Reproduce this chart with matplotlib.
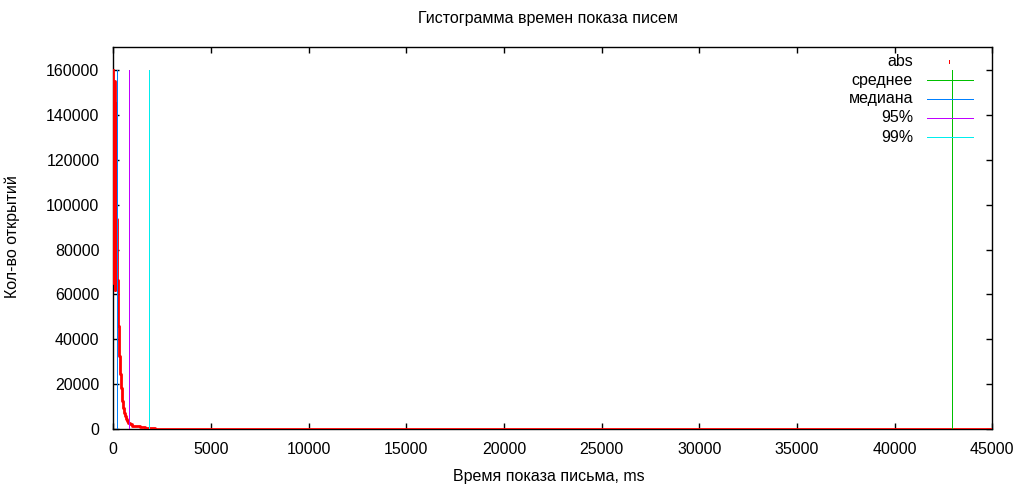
import matplotlib
matplotlib.use("Agg")
import matplotlib.pyplot as plt

plt.rcParams['font.family'] = ['Liberation Sans', 'DejaVu Sans']

# histogram: left edge of bin (ms) and count
bin_ms = [0, 10, 20, 30, 40, 50, 60, 70, 80, 90, 100, 110, 200, 230, 260, 292,
          343, 394, 445, 497, 548, 599, 650, 701, 753, 855, 957, 1111, 1367,
          1623, 2135, 3000, 5000, 10000, 20000, 30000, 45000]
counts = [160000, 65000, 150000, 75000, 140000, 100000, 155000, 62000, 130000,
          85000, 145000, 93600, 66400, 51700, 45900, 32500, 24500, 18300,
          12500, 9400, 7100, 5800, 4500, 3600, 2700, 2200, 1600, 1300, 900, 450,
          200, 120, 60, 30, 15, 8, 5]

stat_names = ["среднее", "медиана", "95%", "99%"]
stat_values = [42960, 165, 820, 1843]
stat_colors = ["#00c000", "#0080ff", "#c000ff", "#00eeee"]
stat_height = 160000

fig = plt.figure(figsize=(10.2, 4.88), dpi=100)
W, H = 1020, 488
ax = fig.add_axes([113.3 / W, 1 - 429.3 / H, (992.3 - 113.3) / W, (429.3 - 47.3) / H])

ax.plot(bin_ms, counts, color="#ff0000", lw=2.0, drawstyle="steps-post", zorder=3)
for v, c in zip(stat_values, stat_colors):
    ax.vlines(v, 0, stat_height, color=c, lw=0.72, zorder=4, antialiased=False)

ax.set_xlim(0, 45000)
ax.set_ylim(0, 170000)
ax.set_xticks(range(0, 45001, 5000))
ax.set_yticks(range(0, 160001, 20000))
ax.tick_params(direction="in", length=4, width=1, top=True, right=True,
               labelsize=11.5, colors="black")
ax.tick_params(axis="y", pad=10)
ax.tick_params(axis="x", pad=9)
for s in ax.spines.values():
    s.set_linewidth(1)

fig.text(548 / W, 1 - 18 / H, "Гистограмма времен показа писем", ha="center",
         va="center", fontsize=11.5)
fig.text(549 / W, 1 - 476 / H, "Время показа письма, ms", ha="center",
         va="center", fontsize=11.5)
fig.text(12 / W, 1 - 237 / H, "Кол-во открытий", ha="center", va="center",
         rotation=90, fontsize=11.5)

# gnuplot-style key
labels = ["abs"] + stat_names
colors = ["#ff0000"] + stat_colors
for i, (lab, c) in enumerate(zip(labels, colors)):
    y = 1 - (61 + 19 * i) / H
    fig.text(913 / W, y, lab, ha="right", va="center", fontsize=11.5)
    if i == 0:
        fig.add_artist(plt.Line2D([949 / W, 949 / W], [y - 1.5 / H, y + 1.5 / H],
                                  color=c, lw=0.72, antialiased=False))
    else:
        fig.add_artist(plt.Line2D([927 / W, 973 / W], [y, y], color=c, lw=0.72,
                                  antialiased=False))

fig.savefig("out.png", dpi=100)
